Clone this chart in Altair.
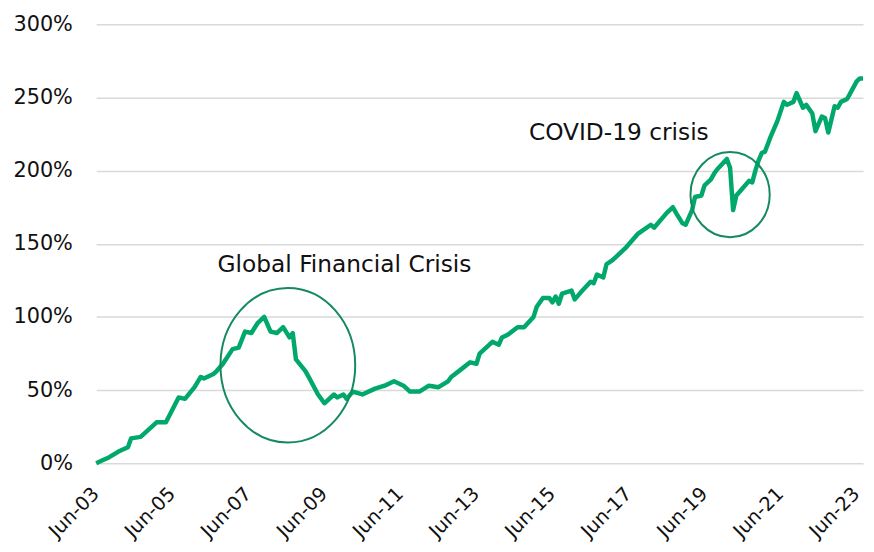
import altair as alt
import pandas as pd

# --- data (cumulative return, %) ---
dates = [
    "2003-06", "2003-08", "2003-10", "2004-01", "2004-04", "2004-05", "2004-08",
    "2005-01", "2005-04", "2005-08", "2005-10", "2006-01", "2006-03", "2006-04",
    "2006-07", "2006-08", "2006-10", "2007-01", "2007-03", "2007-05", "2007-07",
    "2007-09", "2007-11", "2008-01", "2008-03", "2008-05", "2008-07", "2008-08",
    "2008-09", "2008-12", "2009-01", "2009-04", "2009-06", "2009-09", "2009-10",
    "2009-12", "2010-01", "2010-03", "2010-06", "2010-10", "2011-01", "2011-04",
    "2011-07", "2011-09", "2011-12", "2012-03", "2012-06", "2012-09", "2012-10",
    "2013-01", "2013-04", "2013-06", "2013-07", "2013-11", "2014-01", "2014-02",
    "2014-04", "2014-07", "2014-09", "2014-12", "2015-01", "2015-03", "2015-05",
    "2015-06", "2015-07", "2015-08", "2015-09", "2015-12", "2016-01", "2016-03",
    "2016-06", "2016-07", "2016-08", "2016-10", "2016-11", "2017-01", "2017-05",
    "2017-09", "2018-01", "2018-02", "2018-06", "2018-08", "2018-09", "2018-11",
    "2018-12", "2019-02", "2019-03", "2019-05", "2019-06", "2019-08", "2019-09",
    "2019-10", "2020-01", "2020-02", "2020-03", "2020-04", "2020-06", "2020-08",
    "2020-09", "2020-10", "2020-11", "2020-12", "2021-01", "2021-03", "2021-05",
    "2021-07", "2021-08", "2021-10", "2021-11", "2022-01", "2022-02", "2022-04",
    "2022-05", "2022-07", "2022-08", "2022-09", "2022-11", "2022-12", "2023-01",
    "2023-03", "2023-04", "2023-06", "2023-07", "2023-08",
]
values = [
    0, 2, 4, 8, 11, 17, 18,
    28, 28, 45, 44, 52, 59, 58,
    61, 63, 68, 78, 79, 90, 89,
    96, 100, 90, 89, 93, 86, 89,
    71, 63, 59, 47, 41, 47, 45,
    47, 44, 49, 47, 51, 53, 56,
    53, 49, 49, 53, 52, 56, 59,
    64, 69, 68, 75, 83, 81, 86,
    88, 93, 93, 100, 107, 113, 113,
    110, 114, 109, 116, 118, 112, 117,
    124, 123, 129, 127, 136, 139, 147,
    157, 163, 161, 171, 175, 171, 164,
    163, 173, 182, 183, 190, 194, 198,
    201, 208, 202, 173, 183, 188, 193,
    192, 200, 207, 212, 213, 224, 234,
    247, 245, 247, 253, 243, 245, 239,
    227, 237, 236, 226, 244, 243, 247,
    249, 253, 261, 263, 263,
]

ann_text = ["Global Financial Crisis", "COVID-19 crisis"]
ann_date = ["2006-08-10", "2014-10-18"]
ann_value = [135.5, 225.6]

ell_date = ["2008-06-15", "2020-02-01"]
ell_value = [67, 183.6]

y_ticks = [0, 50, 100, 150, 200, 250, 300]
x_tick_years = [2003, 2005, 2007, 2009, 2011, 2013, 2015, 2017, 2019, 2021, 2023]

LINE = "#00A86B"
RING = "#158A5E"
FONT = "DejaVu Sans"

df = pd.DataFrame({"date": [d + "-01" for d in dates], "value": values})
ann = pd.DataFrame({"date": ann_date, "value": ann_value, "text": ann_text})
ell = pd.DataFrame({"date": ell_date, "value": ell_value})

xscale = alt.Scale(
    type="utc",
    domain=[alt.DateTime(year=2003, month=6, date=1, utc=True),
            alt.DateTime(year=2023, month=8, date=1, utc=True)],
)
yscale = alt.Scale(domain=[0, 300], nice=False, zero=True)

x_axis = alt.Axis(
    values=[alt.DateTime(year=y, month=6, date=1, utc=True) for y in x_tick_years],
    format="%b-%y", labelAngle=-45, grid=False, domain=False, ticks=False,
    labelFontSize=19.5, labelFont=FONT, labelColor="#111111", labelPadding=21,
    labelOffset=-7, labelFlush=False, labelOverlap=False, title=None,
)
y_axis = alt.Axis(
    values=y_ticks, labelExpr="datum.value + '%'", grid=True, gridColor="#d9d9d9",
    gridWidth=1.5, domain=False, ticks=False, labelFontSize=21, labelFont=FONT,
    labelColor="#111111", labelPadding=24, title=None,
)

base_x = alt.X("date:T", scale=xscale, axis=x_axis)
base_y = alt.Y("value:Q", scale=yscale, axis=y_axis)

line = alt.Chart(df).mark_line(color=LINE, strokeWidth=4.5, strokeJoin="round").encode(
    x=base_x, y=base_y
)

ring_gfc = alt.Chart(ell.iloc[[0]]).mark_point(
    shape="M -1 0 A 1 1.147 0 1 0 1 0 A 1 1.147 0 1 0 -1 0 Z",
    size=136 * 136, filled=False, stroke=RING, strokeWidth=2, opacity=1,
).encode(x=alt.X("date:T", scale=xscale), y=alt.Y("value:Q", scale=yscale))

ring_covid = alt.Chart(ell.iloc[[1]]).mark_point(
    shape="M -1 0 A 1 1.075 0 1 0 1 0 A 1 1.075 0 1 0 -1 0 Z",
    size=80 * 80, filled=False, stroke=RING, strokeWidth=2, opacity=1,
).encode(x=alt.X("date:T", scale=xscale), y=alt.Y("value:Q", scale=yscale))

labels = alt.Chart(ann).mark_text(
    align="left", baseline="middle", fontSize=23.5, font=FONT, color="#111111"
).encode(x=alt.X("date:T", scale=xscale), y=alt.Y("value:Q", scale=yscale), text="text:N")

chart = alt.layer(line, ring_gfc, ring_covid, labels).properties(
    width=774, height=443,
    autosize=alt.AutoSizeParams(type="none"),
    padding={"left": 89, "top": 14, "right": 3, "bottom": 79},
).configure_view(stroke=None)

chart.save("out.html", embed_options={"renderer": "svg", "actions": False})
